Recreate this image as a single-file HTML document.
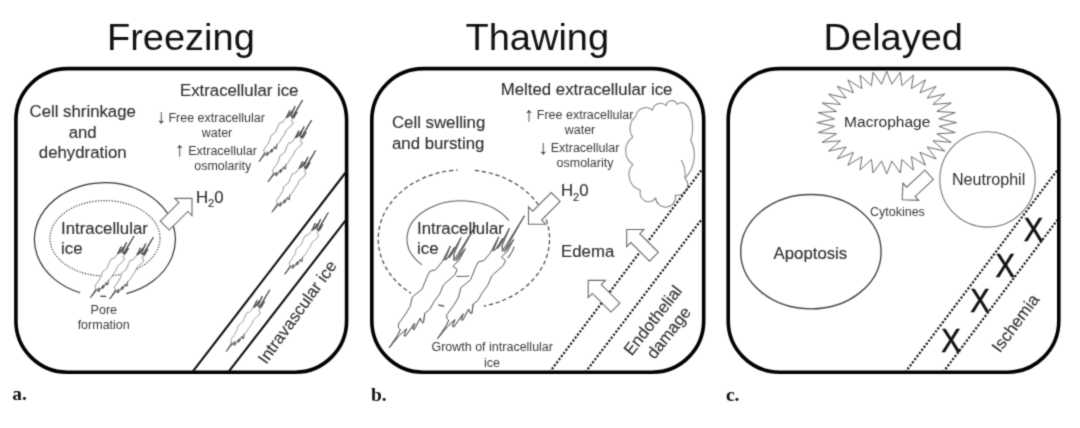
<!DOCTYPE html>
<html><head><meta charset="utf-8"><title>Freezing, Thawing, Delayed</title>
<style>
html,body{margin:0;padding:0;background:#fff;}
body{width:1080px;height:428px;overflow:hidden;}
svg{display:block;}
text{font-family:"Liberation Sans",sans-serif;fill:#2e2e2e;}
.ttl{font-size:37px;fill:#111;}
.lab{font-family:"Liberation Serif",serif;font-weight:bold;font-size:18px;fill:#111;}
.t17{font-size:16.8px;stroke:#2e2e2e;stroke-width:0.12px;}
.t16{font-size:16px;}
.t12{font-size:12.5px;fill:#3a3a3a;}
.ar{font-size:20px;fill:#3a3a3a;}
.c14{fill:#2e2e2e;}
.xm{font-size:34px;text-anchor:middle;fill:#111;stroke:#111;stroke-width:0.55px;}
</style></head><body>
<svg width="1080" height="428" viewBox="0 0 1080 428">
<defs><filter id="soft" x="0" y="0" width="1080" height="428" filterUnits="userSpaceOnUse" color-interpolation-filters="sRGB"><feConvolveMatrix order="3" kernelMatrix="1 4 1 4 16 4 1 4 1" divisor="36" edgeMode="duplicate" preserveAlpha="true"/></filter></defs>
<g filter="url(#soft)">
<rect width="1080" height="428" fill="#fff"/>
<rect x="15.9" y="68.6" width="330.7" height="303.6" rx="51.5" ry="51.5" fill="#fff" stroke="#000" stroke-width="3.6"/>
<rect x="371.8" y="68.6" width="331.9" height="303.6" rx="51.5" ry="51.5" fill="#fff" stroke="#000" stroke-width="3.6"/>
<rect x="728.2" y="68.6" width="330.6" height="303.6" rx="51.5" ry="51.5" fill="#fff" stroke="#000" stroke-width="3.6"/>
<text class="ttl" text-anchor="middle" transform="translate(180.9 49.5) scale(1.027 1)">Freezing</text>
<text class="ttl" text-anchor="middle" transform="translate(537.3 49.5) scale(1.027 1)">Thawing</text>
<text class="ttl" text-anchor="middle" transform="translate(893.3 49.6) scale(1.027 1)">Delayed</text>
<text class="lab" transform="translate(12.3 400.3) scale(1.08 1)">a.</text>
<text class="lab" transform="translate(371 400.5) scale(1.08 1)">b.</text>
<text class="lab" transform="translate(726 400.5) scale(1.08 1)">c.</text>
<text class="t17" x="239.2" y="95.9" text-anchor="middle">Extracellular ice</text>
<text class="t17" x="82.7" y="117.4" text-anchor="middle">Cell shrinkage</text>
<text class="t17" x="82.7" y="137.7" text-anchor="middle">and</text>
<text class="t17" x="82.7" y="157.9" text-anchor="middle">dehydration</text>
<text class="ar" x="155.9" y="123.3">↓</text>
<text class="t12" x="168.4" y="121.5" font-size="12.7">Free extracellular</text>
<text class="t12" x="217" y="136.8" text-anchor="middle">water</text>
<text class="ar" x="174.5" y="156">↑</text>
<text class="t12" x="188.2" y="154.6" font-size="12.7">Extracellular</text>
<text class="t12" x="222.7" y="170" text-anchor="middle">osmolarity</text>
<text class="t17" x="195.9" y="202.8" font-size="17.3">H<tspan dy="4.4" font-size="11">2</tspan><tspan dy="-4.4">0</tspan></text>
<path d="M80.2 292.7 A 70.5 56.8 0 1 1 126.4 293.59" fill="none" stroke="#333" stroke-width="1.2"/>
<path d="M100.3 296.3 H106.1" stroke="#333" stroke-width="1.2"/>
<ellipse cx="105" cy="238.3" rx="55" ry="37.7" fill="none" stroke="#383838" stroke-width="1.15" stroke-dasharray="1.3 1.5"/>
<path d="M-38.5 -6.3 L-12.2 -6.3 L-12.2 -12.2 L0 0 L-12.2 12.2 L-12.2 6.3 L-38.5 6.3Z" transform="translate(192 198.4) rotate(-45)" fill="#fff" stroke="#6c6c6c" stroke-width="1.1"/>
<path d="M90.5 297.6 L94.8 291.2 L96.2 288.4 L95.2 287.5 L95.2 285.6 L98.7 280.8 L101.1 276.7 L102.2 272.1 L107.1 268.1 L109.3 262.5 L110.9 259.2 L113.9 258.4 L117.2 254.3 L121.2 246.6 L118.4 253.6 L119.6 252.9 L123.3 247.2 L120.5 252.5 L122 250.6 L126.5 242.4 L122.9 250.8 L123 253.8 L134 236.1 L124 253.9 L124.9 252.9 L128.6 248 L125.5 253.7 L124.2 255 L122.5 256.8 L124.6 258.4 L123.4 261 L117.7 266.1 L115.8 270.6 L113.1 274.3 L110.8 278.4 L108.4 280.2 L107.7 285 L106.9 284.7 L106.1 282.7 L103.1 288.4 L102.4 288 L103.4 285.1 L98.7 291.7 L98 291.3 L99.3 288 L95.4 291.6Z" fill="#fff" stroke="#666" stroke-width="0.7" stroke-linejoin="miter" stroke-miterlimit="8"/><path d="M117.2 254.3 L121.2 246.6 L118.4 253.6 L119.6 252.9 L123.3 247.2 L120.5 252.5 L122 250.6 L126.5 242.4 L122.9 250.8 L123 253.8 L134 236.1 L124 253.9 L124.9 252.9 L128.6 248 L125.5 253.7 L124.2 255 M108.4 280.2 L107.7 285 L106.9 284.7 L106.1 282.7 L103.1 288.4 L102.4 288 L103.4 285.1 L98.7 291.7 L98 291.3 L99.3 288 L95.4 291.6 L90.5 297.6 L94.8 291.2 L96.2 288.4" fill="none" stroke="#404040" stroke-width="0.75" stroke-linejoin="miter" stroke-miterlimit="8"/>
<path d="M109.8 298.8 L114.1 292.4 L115.5 289.6 L114.5 288.7 L114.5 286.8 L118 282 L120.4 277.9 L121.5 273.3 L126.4 269.3 L128.6 263.7 L130.2 260.4 L133.2 259.6 L136.5 255.5 L140.5 247.8 L137.7 254.8 L138.9 254.1 L142.6 248.4 L139.8 253.7 L141.3 251.8 L145.8 243.6 L142.2 252 L142.3 255 L153.3 237.3 L143.3 255.1 L144.2 254.1 L147.9 249.2 L144.8 254.9 L143.5 256.2 L141.8 258 L143.9 259.6 L142.7 262.2 L137 267.3 L135.1 271.8 L132.4 275.5 L130.1 279.6 L127.7 281.4 L127 286.2 L126.2 285.9 L125.4 283.9 L122.4 289.6 L121.7 289.2 L122.7 286.3 L118 292.9 L117.3 292.5 L118.6 289.2 L114.7 292.8Z" fill="#fff" stroke="#666" stroke-width="0.7" stroke-linejoin="miter" stroke-miterlimit="8"/><path d="M136.5 255.5 L140.5 247.8 L137.7 254.8 L138.9 254.1 L142.6 248.4 L139.8 253.7 L141.3 251.8 L145.8 243.6 L142.2 252 L142.3 255 L153.3 237.3 L143.3 255.1 L144.2 254.1 L147.9 249.2 L144.8 254.9 L143.5 256.2 M127.7 281.4 L127 286.2 L126.2 285.9 L125.4 283.9 L122.4 289.6 L121.7 289.2 L122.7 286.3 L118 292.9 L117.3 292.5 L118.6 289.2 L114.7 292.8 L109.8 298.8 L114.1 292.4 L115.5 289.6" fill="none" stroke="#404040" stroke-width="0.75" stroke-linejoin="miter" stroke-miterlimit="8"/>
<text class="t17" x="61.1" y="234.2">Intracellular</text>
<text class="t17" x="61.1" y="254.3">ice</text>
<text class="t12" x="103.8" y="313.6" text-anchor="middle">Pore</text>
<text class="t12" x="103.7" y="328.9" text-anchor="middle" font-size="12.7">formation</text>
<path d="M259.1 161.5 L263.4 155.1 L264.8 152.3 L263.8 151.4 L263.8 149.5 L267.3 144.7 L269.7 140.6 L270.8 136 L275.7 132 L277.9 126.4 L279.5 123.1 L282.5 122.3 L285.8 118.2 L289.8 110.5 L287 117.5 L288.2 116.8 L291.9 111.1 L289.1 116.4 L290.6 114.5 L295.1 106.3 L291.5 114.7 L291.6 117.7 L302.6 100 L292.6 117.8 L293.5 116.8 L297.2 111.9 L294.1 117.6 L292.8 118.9 L291.1 120.7 L293.2 122.3 L292 124.9 L286.3 130 L284.4 134.5 L281.7 138.2 L279.4 142.3 L277 144.1 L276.3 148.9 L275.5 148.6 L274.7 146.6 L271.7 152.3 L271 151.9 L272 149 L267.3 155.6 L266.6 155.2 L267.9 151.9 L264 155.5Z" fill="#fff" stroke="#666" stroke-width="0.7" stroke-linejoin="miter" stroke-miterlimit="8"/><path d="M285.8 118.2 L289.8 110.5 L287 117.5 L288.2 116.8 L291.9 111.1 L289.1 116.4 L290.6 114.5 L295.1 106.3 L291.5 114.7 L291.6 117.7 L302.6 100 L292.6 117.8 L293.5 116.8 L297.2 111.9 L294.1 117.6 L292.8 118.9 M277 144.1 L276.3 148.9 L275.5 148.6 L274.7 146.6 L271.7 152.3 L271 151.9 L272 149 L267.3 155.6 L266.6 155.2 L267.9 151.9 L264 155.5 L259.1 161.5 L263.4 155.1 L264.8 152.3" fill="none" stroke="#404040" stroke-width="0.75" stroke-linejoin="miter" stroke-miterlimit="8"/>
<path d="M268.1 181.7 L272.4 175.3 L273.8 172.5 L272.8 171.6 L272.8 169.7 L276.3 164.9 L278.7 160.8 L279.8 156.2 L284.7 152.2 L286.9 146.6 L288.5 143.3 L291.5 142.5 L294.8 138.4 L298.8 130.7 L296 137.7 L297.2 137 L300.9 131.3 L298.1 136.6 L299.6 134.7 L304.1 126.5 L300.5 134.9 L300.6 137.9 L311.6 120.2 L301.6 138 L302.5 137 L306.2 132.1 L303.1 137.8 L301.8 139.1 L300.1 140.9 L302.2 142.5 L301 145.1 L295.3 150.2 L293.4 154.7 L290.7 158.4 L288.4 162.5 L286 164.3 L285.3 169.1 L284.5 168.8 L283.7 166.8 L280.7 172.5 L280 172.1 L281 169.2 L276.3 175.8 L275.6 175.4 L276.9 172.1 L273 175.7Z" fill="#fff" stroke="#666" stroke-width="0.7" stroke-linejoin="miter" stroke-miterlimit="8"/><path d="M294.8 138.4 L298.8 130.7 L296 137.7 L297.2 137 L300.9 131.3 L298.1 136.6 L299.6 134.7 L304.1 126.5 L300.5 134.9 L300.6 137.9 L311.6 120.2 L301.6 138 L302.5 137 L306.2 132.1 L303.1 137.8 L301.8 139.1 M286 164.3 L285.3 169.1 L284.5 168.8 L283.7 166.8 L280.7 172.5 L280 172.1 L281 169.2 L276.3 175.8 L275.6 175.4 L276.9 172.1 L273 175.7 L268.1 181.7 L272.4 175.3 L273.8 172.5" fill="none" stroke="#404040" stroke-width="0.75" stroke-linejoin="miter" stroke-miterlimit="8"/>
<path d="M272 212.2 L276.3 205.8 L277.7 203 L276.7 202.1 L276.7 200.2 L280.2 195.4 L282.6 191.3 L283.7 186.7 L288.6 182.7 L290.8 177.1 L292.4 173.8 L295.4 173 L298.7 168.9 L302.7 161.2 L299.9 168.2 L301.1 167.5 L304.8 161.8 L302 167.1 L303.5 165.2 L308 157 L304.4 165.4 L304.5 168.4 L315.5 150.7 L305.5 168.5 L306.4 167.5 L310.1 162.6 L307 168.3 L305.7 169.6 L304 171.4 L306.1 173 L304.9 175.6 L299.2 180.7 L297.3 185.2 L294.6 188.9 L292.3 193 L289.9 194.8 L289.2 199.6 L288.4 199.3 L287.6 197.3 L284.6 203 L283.9 202.6 L284.9 199.7 L280.2 206.3 L279.5 205.9 L280.8 202.6 L276.9 206.2Z" fill="#fff" stroke="#666" stroke-width="0.7" stroke-linejoin="miter" stroke-miterlimit="8"/><path d="M298.7 168.9 L302.7 161.2 L299.9 168.2 L301.1 167.5 L304.8 161.8 L302 167.1 L303.5 165.2 L308 157 L304.4 165.4 L304.5 168.4 L315.5 150.7 L305.5 168.5 L306.4 167.5 L310.1 162.6 L307 168.3 L305.7 169.6 M289.9 194.8 L289.2 199.6 L288.4 199.3 L287.6 197.3 L284.6 203 L283.9 202.6 L284.9 199.7 L280.2 206.3 L279.5 205.9 L280.8 202.6 L276.9 206.2 L272 212.2 L276.3 205.8 L277.7 203" fill="none" stroke="#404040" stroke-width="0.75" stroke-linejoin="miter" stroke-miterlimit="8"/>
<path d="M192.3 372.2 L346.4 171.5 M228.3 372.2 L346.4 219.4" stroke="#111" stroke-width="2.1" fill="none"/>
<path d="M284.7 274.2 L289 267.8 L290.4 265 L289.4 264.1 L289.4 262.2 L292.9 257.4 L295.3 253.3 L296.4 248.7 L301.3 244.7 L303.5 239.1 L305.1 235.8 L308.1 235 L311.4 230.9 L315.4 223.2 L312.6 230.2 L313.8 229.5 L317.5 223.8 L314.7 229.1 L316.2 227.2 L320.7 219 L317.1 227.4 L317.2 230.4 L328.2 212.7 L318.2 230.5 L319.1 229.5 L322.8 224.6 L319.7 230.3 L318.4 231.6 L316.7 233.4 L318.8 235 L317.6 237.6 L311.9 242.7 L310 247.2 L307.3 250.9 L305 255 L302.6 256.8 L301.9 261.6 L301.1 261.3 L300.3 259.3 L297.3 265 L296.6 264.6 L297.6 261.7 L292.9 268.3 L292.2 267.9 L293.5 264.6 L289.6 268.2Z" fill="#fff" stroke="#777" stroke-width="0.7" stroke-linejoin="miter" stroke-miterlimit="8"/><path d="M311.4 230.9 L315.4 223.2 L312.6 230.2 L313.8 229.5 L317.5 223.8 L314.7 229.1 L316.2 227.2 L320.7 219 L317.1 227.4 L317.2 230.4 L328.2 212.7 L318.2 230.5 L319.1 229.5 L322.8 224.6 L319.7 230.3 L318.4 231.6 M302.6 256.8 L301.9 261.6 L301.1 261.3 L300.3 259.3 L297.3 265 L296.6 264.6 L297.6 261.7 L292.9 268.3 L292.2 267.9 L293.5 264.6 L289.6 268.2 L284.7 274.2 L289 267.8 L290.4 265" fill="none" stroke="#404040" stroke-width="0.75" stroke-linejoin="miter" stroke-miterlimit="8"/>
<path d="M226.3 351.3 L230.6 344.9 L232 342.1 L231 341.2 L231 339.3 L234.5 334.5 L236.9 330.4 L238 325.8 L242.9 321.8 L245.1 316.2 L246.7 312.9 L249.7 312.1 L253 308 L257 300.3 L254.2 307.3 L255.4 306.6 L259.1 300.9 L256.3 306.2 L257.8 304.3 L262.3 296.1 L258.7 304.5 L258.8 307.5 L269.8 289.8 L259.8 307.6 L260.7 306.6 L264.4 301.7 L261.3 307.4 L260 308.7 L258.3 310.5 L260.4 312.1 L259.2 314.7 L253.5 319.8 L251.6 324.3 L248.9 328 L246.6 332.1 L244.2 333.9 L243.5 338.7 L242.7 338.4 L241.9 336.4 L238.9 342.1 L238.2 341.7 L239.2 338.8 L234.5 345.4 L233.8 345 L235.1 341.7 L231.2 345.3Z" fill="#fff" stroke="#777" stroke-width="0.7" stroke-linejoin="miter" stroke-miterlimit="8"/><path d="M253 308 L257 300.3 L254.2 307.3 L255.4 306.6 L259.1 300.9 L256.3 306.2 L257.8 304.3 L262.3 296.1 L258.7 304.5 L258.8 307.5 L269.8 289.8 L259.8 307.6 L260.7 306.6 L264.4 301.7 L261.3 307.4 L260 308.7 M244.2 333.9 L243.5 338.7 L242.7 338.4 L241.9 336.4 L238.9 342.1 L238.2 341.7 L239.2 338.8 L234.5 345.4 L233.8 345 L235.1 341.7 L231.2 345.3 L226.3 351.3 L230.6 344.9 L232 342.1" fill="none" stroke="#404040" stroke-width="0.75" stroke-linejoin="miter" stroke-miterlimit="8"/>
<text class="t17" transform="translate(266.2 365) rotate(-54.3)">Intravascular ice</text>
<text class="t17" x="500.8" y="94.9" font-size="17">Melted extracellular ice</text>
<text class="t17" x="392" y="127.9" font-size="17">Cell swelling</text>
<text class="t17" x="392" y="148.6" font-size="17">and bursting</text>
<text class="ar" x="523.7" y="121.1">↑</text>
<text class="t12" x="536.8" y="118.8" font-size="12.7">Free extracellular</text>
<text class="t12" x="580" y="133.6" text-anchor="middle">water</text>
<text class="ar" x="538" y="153.6">↓</text>
<text class="t12" x="550.7" y="151.6" font-size="12.7">Extracellular</text>
<text class="t12" x="585" y="166.7" text-anchor="middle">osmolarity</text>
<text class="t17" x="560.9" y="196.3" font-size="17.3">H<tspan dy="4.4" font-size="11">2</tspan><tspan dy="-4.4">0</tspan></text>
<path d="M474.94 170.38 A85.7 69.1 0 0 1 483.91 306.09" fill="none" stroke="#444" stroke-width="1.2" stroke-dasharray="4.2 2.8"/>
<path d="M444.18 306.15 A85.7 69.1 0 0 1 438.41 304.87" fill="none" stroke="#444" stroke-width="1.2"/>
<path d="M410.9 293.2 A85.7 69.1 0 0 1 457.62 169.99" fill="none" stroke="#444" stroke-width="1.2" stroke-dasharray="4.2 2.8" stroke-dashoffset="2"/>
<path d="M422.08 264.86 A54.2 37.8 0 1 1 508.83 220.66" fill="none" stroke="#5a5a5a" stroke-width="1.05"/>
<path d="M514.22 246.56 A54.2 37.8 0 0 1 507.66 258.17" fill="none" stroke="#5a5a5a" stroke-width="1.05"/>
<path d="M469.3 276.07 A54.2 37.8 0 0 1 456.38 276.35" fill="none" stroke="#5a5a5a" stroke-width="1.05"/>
<path d="M389 348 L397.6 335.2 L400.4 329.6 L398.4 327.8 L398.4 324 L405.4 314.4 L410.2 306.2 L412.4 297 L422.2 289 L426.6 277.8 L429.8 271.2 L435.8 269.6 L442.4 261.4 L450.4 246 L444.8 260 L447.2 258.6 L454.6 247.2 L449 257.8 L452 254 L461 237.6 L453.8 254.4 L454 260.4 L476 225 L456 260.6 L457.8 258.6 L465.2 248.8 L459 260.2 L456.4 262.8 L453 266.4 L457.2 269.6 L454.8 274.8 L443.4 285 L439.6 294 L434.2 301.4 L429.6 309.6 L424.8 313.2 L423.4 322.8 L421.8 322.2 L420.2 318.2 L414.2 329.6 L412.8 328.8 L414.8 323 L405.4 336.2 L404 335.4 L406.6 328.8 L398.8 336Z" fill="#fff" stroke="#5a5a5a" stroke-width="1.0" stroke-linejoin="miter" stroke-miterlimit="8"/><path d="M442.4 261.4 L450.4 246 L444.8 260 L447.2 258.6 L454.6 247.2 L449 257.8 L452 254 L461 237.6 L453.8 254.4 L454 260.4 L476 225 L456 260.6 L457.8 258.6 L465.2 248.8 L459 260.2 L456.4 262.8 M424.8 313.2 L423.4 322.8 L421.8 322.2 L420.2 318.2 L414.2 329.6 L412.8 328.8 L414.8 323 L405.4 336.2 L404 335.4 L406.6 328.8 L398.8 336 L389 348 L397.6 335.2 L400.4 329.6" fill="none" stroke="#5a5a5a" stroke-width="0.75" stroke-linejoin="miter" stroke-miterlimit="8"/>
<path d="M437.4 338.8 L446 326 L448.8 320.4 L446.8 318.6 L446.8 314.8 L453.8 305.2 L458.6 297 L460.8 287.8 L470.6 279.8 L475 268.6 L478.2 262 L484.2 260.4 L490.8 252.2 L498.8 236.8 L493.2 250.8 L495.6 249.4 L503 238 L497.4 248.6 L500.4 244.8 L509.4 228.4 L502.2 245.2 L502.4 251.2 L524.4 215.8 L504.4 251.4 L506.2 249.4 L513.6 239.6 L507.4 251 L504.8 253.6 L501.4 257.2 L505.6 260.4 L503.2 265.6 L491.8 275.8 L488 284.8 L482.6 292.2 L478 300.4 L473.2 304 L471.8 313.6 L470.2 313 L468.6 309 L462.6 320.4 L461.2 319.6 L463.2 313.8 L453.8 327 L452.4 326.2 L455 319.6 L447.2 326.8Z" fill="#fff" stroke="#5a5a5a" stroke-width="1.0" stroke-linejoin="miter" stroke-miterlimit="8"/><path d="M490.8 252.2 L498.8 236.8 L493.2 250.8 L495.6 249.4 L503 238 L497.4 248.6 L500.4 244.8 L509.4 228.4 L502.2 245.2 L502.4 251.2 L524.4 215.8 L504.4 251.4 L506.2 249.4 L513.6 239.6 L507.4 251 L504.8 253.6 M473.2 304 L471.8 313.6 L470.2 313 L468.6 309 L462.6 320.4 L461.2 319.6 L463.2 313.8 L453.8 327 L452.4 326.2 L455 319.6 L447.2 326.8 L437.4 338.8 L446 326 L448.8 320.4" fill="none" stroke="#5a5a5a" stroke-width="0.75" stroke-linejoin="miter" stroke-miterlimit="8"/>
<text class="t17" x="417.1" y="234" font-size="17">Intracellular</text>
<text class="t17" x="417.1" y="253.8" font-size="17">ice</text>
<path d="M-38.5 -6.3 L-12.2 -6.3 L-12.2 -12.2 L0 0 L-12.2 12.2 L-12.2 6.3 L-38.5 6.3Z" transform="translate(528.5 224.2) rotate(135)" fill="#fff" stroke="#686868" stroke-width="1.1"/>
<text class="t12" x="492.2" y="351.3" text-anchor="middle">Growth of intracellular</text>
<text class="t12" x="492.1" y="366.7" text-anchor="middle">ice</text>
<text class="t17" x="561.1" y="256.5">Edema</text>
<path d="M635.8 116.3 A10.11 10.11 0 0 1 652.6 110.3 A7.91 7.91 0 0 1 666.2 105.7 A5.54 5.54 0 0 1 676.9 104.2 C690 95.5 696 125 690.8 140.2 A33.02 33.02 0 0 1 685 178.1 A10.23 10.23 0 0 1 675.3 194.9 A9.99 9.99 0 1 1 655.6 197.9 A8.57 8.57 0 0 1 640.4 190.3 A16.08 16.08 0 0 1 632.8 164.5 A16.74 16.74 0 0 1 632.8 137.1 A15.24 15.24 0 0 1 635.8 116.3Z" fill="#fff" stroke="#858585" stroke-width="1.05" stroke-linejoin="round"/>
<path d="M681.2 160 Q686 168 685 178.1" fill="none" stroke="#858585" stroke-width="1.05"/>
<path d="M549.6 372.2 L701.5 170 M585.4 372.2 L701.5 219.6" stroke="#111" stroke-width="2.2" stroke-dasharray="2.05 1.8" fill="none"/>
<path d="M-38.5 -6.3 L-12.2 -6.3 L-12.2 -12.2 L0 0 L-12.2 12.2 L-12.2 6.3 L-38.5 6.3Z" transform="translate(626.7 229.5) rotate(-135)" fill="#fff" stroke="#686868" stroke-width="1.1"/>
<path d="M-38.5 -6.3 L-12.2 -6.3 L-12.2 -12.2 L0 0 L-12.2 12.2 L-12.2 6.3 L-38.5 6.3Z" transform="translate(588.2 280.4) rotate(-135)" fill="#fff" stroke="#686868" stroke-width="1.1"/>
<text class="t17" transform="translate(631.7 356.5) rotate(-52)">Endothelial</text>
<text class="t17" transform="translate(654.5 360.1) rotate(-52)">damage</text>
<path d="M886.7 71.2 L891.84 84.24 L900.34 72.19 L901.92 85.71 L913.45 75.11 L911.41 88.6 L925.53 79.86 L919.96 92.8 L936.13 86.25 L927.23 98.14 L944.82 94.04 L932.93 104.43 L951.28 102.93 L936.87 111.41 L955.26 112.57 L938.87 118.82 L956.6 122.6 L938.87 126.38 L955.26 132.63 L936.87 133.79 L951.28 142.27 L932.93 140.77 L944.82 151.16 L927.23 147.06 L936.13 158.95 L919.96 152.4 L925.53 165.34 L911.41 156.6 L913.45 170.09 L901.92 159.49 L900.34 173.01 L891.84 160.96 L886.7 174 L881.56 160.96 L873.06 173.01 L871.48 159.49 L859.95 170.09 L861.99 156.6 L847.87 165.34 L853.44 152.4 L837.27 158.95 L846.17 147.06 L828.58 151.16 L840.47 140.77 L822.12 142.27 L836.53 133.79 L818.14 132.63 L834.53 126.38 L816.8 122.6 L834.53 118.82 L818.14 112.57 L836.53 111.41 L822.12 102.93 L840.47 104.43 L828.58 94.04 L846.17 98.14 L837.27 86.25 L853.44 92.8 L847.87 79.86 L861.99 88.6 L859.95 75.11 L871.48 85.71 L873.06 72.19 L881.56 84.24Z" fill="#fff" stroke="#6a6a6a" stroke-width="1" stroke-linejoin="miter"/>
<text class="c14" x="887.2" y="127.2" text-anchor="middle" font-size="15.5">Macrophage</text>
<circle cx="987.5" cy="179.4" r="47.7" fill="#fff" stroke="#777" stroke-width="1.1"/>
<text class="c14" x="988.6" y="184.9" text-anchor="middle" font-size="16.1">Neutrophil</text>
<path d="M-36.8 -6.3 L-11.8 -6.3 L-11.8 -11.7 L0 0 L-11.8 11.7 L-11.8 6.3 L-36.8 6.3Z" transform="translate(902.2 199.8) rotate(137.2)" fill="#fff" stroke="#686868" stroke-width="1.1"/>
<text class="t12" x="897.4" y="216.1" text-anchor="middle">Cytokines</text>
<ellipse cx="810.9" cy="251.7" rx="70.2" ry="57.2" fill="#fff" stroke="#444" stroke-width="1.4"/>
<text class="t17" x="810.4" y="259.3" text-anchor="middle">Apoptosis</text>
<path d="M905.3 372.2 L1057.2 170.3 M943.2 372.2 L1057.2 220.2" stroke="#111" stroke-width="2.2" stroke-dasharray="2.05 1.8" fill="none"/>
<text class="xm" transform="translate(1033.4 240.7) scale(0.86 1)">X</text>
<text class="xm" transform="translate(1005.2 277.2) scale(0.86 1)">X</text>
<text class="xm" transform="translate(980 312.2) scale(0.86 1)">X</text>
<text class="xm" transform="translate(951 351.9) scale(0.86 1)">X</text>
<text class="t17" transform="translate(1000 353.4) rotate(-53.5)">Ischemia</text>
</g>
</svg>
</body></html>
